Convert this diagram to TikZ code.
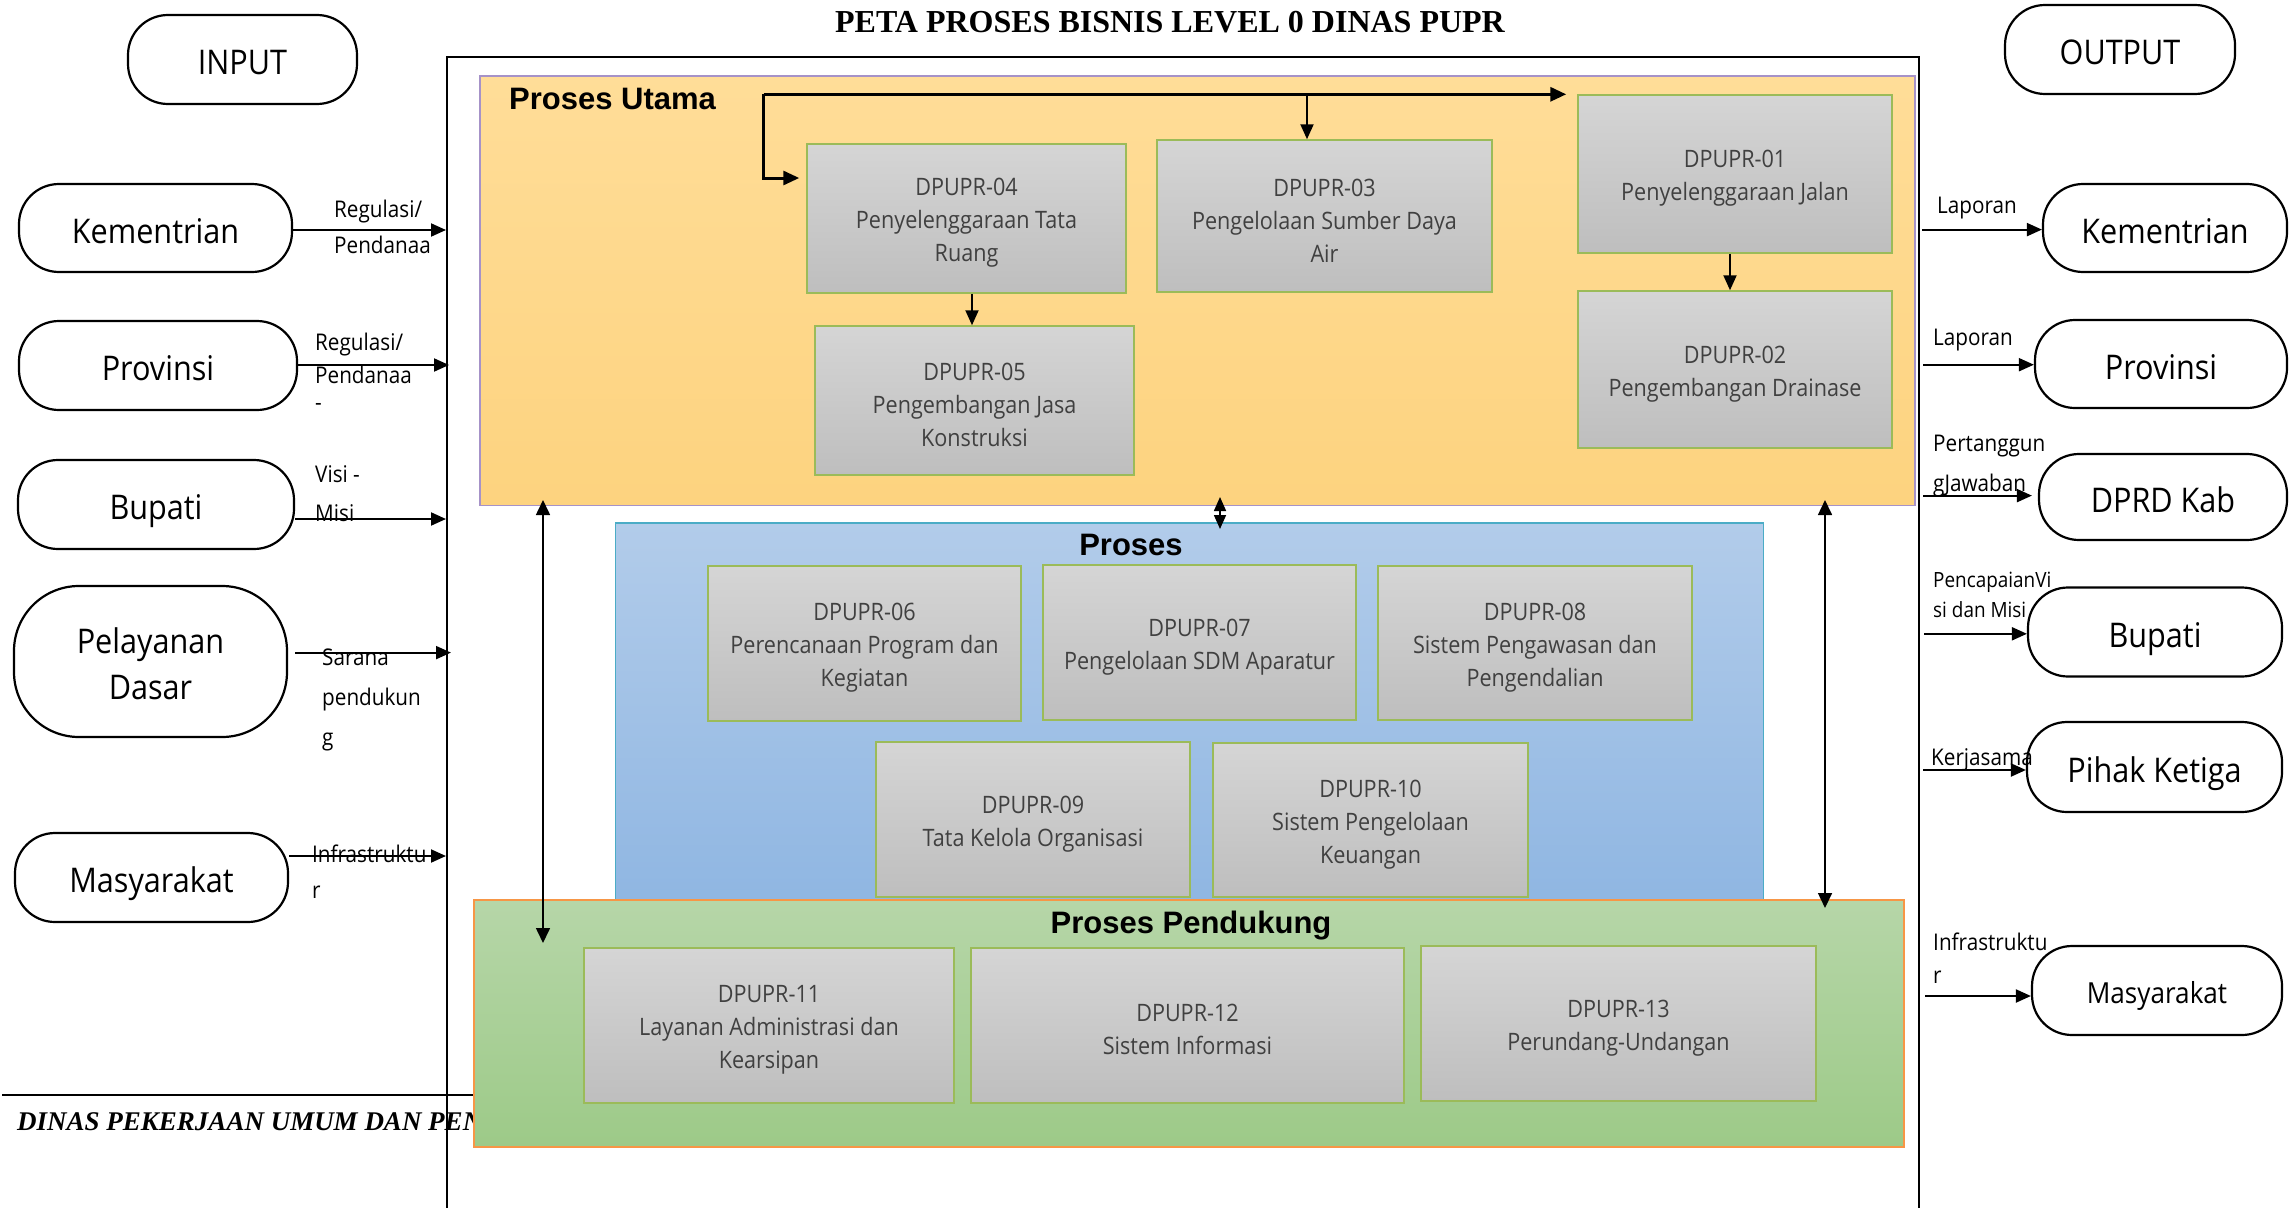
\documentclass[tikz,border=0pt]{standalone}
\usepackage{fontspec}
\usetikzlibrary{arrows.meta}
\newfontfamily\osans[FakeStretch=0.9]{Open Sans}
\newfontfamily\lsans{Liberation Sans}
\newfontfamily\lserif{Liberation Serif}
\newcommand\tp{\rule{0pt}{26pt}}
\definecolor{orTop}{RGB}{255,221,152}
\definecolor{orBot}{RGB}{253,211,127}
\definecolor{orEdge}{RGB}{166,146,200}
\definecolor{blTop}{RGB}{178,204,234}
\definecolor{blBot}{RGB}{143,182,226}
\definecolor{blEdge}{RGB}{75,172,198}
\definecolor{grTop}{RGB}{182,214,168}
\definecolor{grBot}{RGB}{157,202,136}
\definecolor{grEdge}{RGB}{247,150,70}
\definecolor{gTop}{RGB}{213,213,213}
\definecolor{gBot}{RGB}{190,190,190}
\definecolor{boxEdge}{RGB}{155,187,89}
\definecolor{boxText}{RGB}{64,64,64}
\begin{document}
\begin{tikzpicture}[x=1pt,y=-1pt,
  oval/.style={draw, line width=2.2pt, rounded corners=40pt, fill=white, align=center, inner sep=0pt, font=\osans\fontsize{34}{46}\selectfont},
  ovalone/.style={oval, text height=30pt, text depth=0pt},
  pbox/.style={draw=boxEdge, line width=1.5pt, top color=gTop, bottom color=gBot, align=center, inner sep=0pt, text=boxText, font=\osans\fontsize{24}{33}\selectfont},
  area/.style={line width=1.3pt, inner sep=0pt},
  arr/.style={-{Triangle[length=15pt,width=13pt]}, line width=2pt},
  tarr/.style={-{Triangle[length=16pt,width=14pt]}, line width=3.2pt},
  darr/.style={{Triangle[length=15pt,width=14pt]}-{Triangle[length=15pt,width=14pt]}, line width=1.6pt},
  elab/.style={anchor=base west, inner sep=0pt, font=\osans\fontsize{23}{28}\selectfont},
  head/.style={anchor=base, inner sep=0pt, font=\lsans\bfseries\fontsize{31}{36}\selectfont},
]
\useasboundingbox (0,0) rectangle (2296,1207);

% title and footer
\node[anchor=base, inner sep=0pt, font=\lserif\bfseries\fontsize{32}{36}\selectfont] (title) at (1170,33) {PETA PROSES BISNIS LEVEL 0 DINAS PUPR};
\node[anchor=base west, inner sep=0pt, font=\lserif\bfseries\itshape\fontsize{27}{32}\selectfont] (footer) at (17,1130) {DINAS PEKERJAAN UMUM DAN PEN};
\coordinate (fl1) at (2,1095);
\coordinate (fl2) at (480,1095);
\draw[line width=2pt] (fl1) -- (fl2);

% frame
\coordinate (fBL) at (447,1212);
\coordinate (fTL) at (447,57);
\coordinate (fTR) at (1919,57);
\coordinate (fBR) at (1919,1212);
\draw[line width=2.6pt] (fBL) -- (fTL) -- (fTR) -- (fBR);

% areas
\node[area, draw=orEdge, top color=orTop, bottom color=orBot, minimum width=1435pt, minimum height=429.5pt] (orange) at (1197.5,290.75) {};
\node[area, draw=blEdge, top color=blTop, bottom color=blBot, minimum width=1148pt, minimum height=382pt] (blue) at (1189.5,714) {};
\node[area, draw=grEdge, top color=grTop, bottom color=grBot, minimum width=1430pt, minimum height=247pt] (green) at (1189,1023.5) {};

\node[head, anchor=base west] (hUtama) at (509,109) {Proses Utama};
\node[head] (hProses) at (1131,555) {Proses};
\node[head] (hPend) at (1191,933) {Proses Pendukung};

% process boxes
\node[pbox, minimum width=314pt, minimum height=158pt] (b01) at (1735,174) {\tp DPUPR-01\\Penyelenggaraan Jalan};
\node[pbox, minimum width=314pt, minimum height=157pt] (b02) at (1735,369.5) {\tp DPUPR-02\\Pengembangan Drainase};
\node[pbox, minimum width=335pt, minimum height=152pt] (b03) at (1324.5,216) {\tp DPUPR-03\\Pengelolaan Sumber Daya\\Air};
\node[pbox, minimum width=319pt, minimum height=149pt] (b04) at (966.5,218.5) {\tp DPUPR-04\\Penyelenggaraan Tata\\Ruang};
\node[pbox, minimum width=319pt, minimum height=149pt] (b05) at (974.5,400.5) {\tp DPUPR-05\\Pengembangan Jasa\\Konstruksi};
\node[pbox, minimum width=313pt, minimum height=155pt] (b06) at (864.5,643.5) {\tp DPUPR-06\\Perencanaan Program dan\\Kegiatan};
\node[pbox, minimum width=313pt, minimum height=155pt] (b07) at (1199.5,642.5) {\tp DPUPR-07\\Pengelolaan SDM Aparatur};
\node[pbox, minimum width=314pt, minimum height=154pt] (b08) at (1535,643) {\tp DPUPR-08\\Sistem Pengawasan dan\\Pengendalian};
\node[pbox, minimum width=314pt, minimum height=155pt] (b09) at (1033,819.5) {\tp DPUPR-09\\Tata Kelola Organisasi};
\node[pbox, minimum width=315pt, minimum height=154pt] (b10) at (1370.5,820) {\tp DPUPR-10\\Sistem Pengelolaan\\Keuangan};
\node[pbox, minimum width=370pt, minimum height=155pt] (b11) at (769,1025.5) {\tp DPUPR-11\\Layanan Administrasi dan\\Kearsipan};
\node[pbox, minimum width=433pt, minimum height=155pt] (b12) at (1187.5,1025.5) {\tp DPUPR-12\\Sistem Informasi};
\node[pbox, minimum width=395pt, minimum height=155pt] (b13) at (1618.5,1023.5) {\tp DPUPR-13\\Perundang-Undangan};

% internal arrows
\coordinate (elb) at (763.5,94.3);
\draw[tarr, shorten >=11pt] (elb) -- (b01.west |- elb);
\draw[tarr, shorten >=7pt, line width=3pt] (elb) |- (b04.west |- 0,178);
\coordinate (top3) at (1307,96);
\draw[arr] (top3) -- (top3 |- b03.north);
\draw[arr] (b04.south -| 972,0) -- (b05.north -| 972,0);
\draw[arr] (b01.south -| 1730,0) -- (b02.north -| 1730,0);
\coordinate (m1) at (1220,497);
\coordinate (m2) at (1220,529);
\draw[{Triangle[length=14pt,width=12pt]}-{Triangle[length=14pt,width=12pt]}, line width=1.6pt] (m1) -- (m2);
\coordinate (l1) at (543,500);
\coordinate (l2) at (543,943);
\draw[darr] (l1) -- (l2);
\coordinate (r1) at (1825,500);
\coordinate (r2) at (1825,908);
\draw[darr] (r1) -- (r2);

% left input nodes
\node[ovalone, minimum width=229pt, minimum height=89pt] (input) at (242.5,59.5) {INPUT};
\node[ovalone, minimum width=273pt, minimum height=88pt] (kemL) at (155.5,228) {Kementrian};
\node[ovalone, minimum width=278pt, minimum height=89pt] (provL) at (158,365.5) {Provinsi};
\node[ovalone, minimum width=276pt, minimum height=89pt] (bupL) at (156,504.5) {Bupati};
\node[oval, rounded corners=65pt, minimum width=273pt, minimum height=151pt] (pelL) at (150.5,661.5) {\rule{0pt}{30pt}Pelayanan\\Dasar};
\node[ovalone, minimum width=273pt, minimum height=89pt] (masL) at (151.5,877.5) {Masyarakat};

\coordinate (inK) at (446,230);
\coordinate (inP) at (449,365);
\coordinate (inB) at (446,519);
\coordinate (inD) at (451,652.6);
\coordinate (inM) at (446,856);
\draw[arr] (kemL.east |- inK) -- (inK);
\draw[arr] (provL.east |- inP) -- (inP);
\draw[arr] (bupL.east |- inB) -- (inB);
\draw[arr] ([xshift=7pt]pelL.east |- inD) -- (inD);
\draw[arr] (masL.east |- inM) -- (inM);

\node[elab] (lk1) at (334,217) {Regulasi/};
\node[elab] (lk2) at (334,253) {Pendanaa};
\node[elab] (lp1) at (315,350) {Regulasi/};
\node[elab] (lp2) at (315,383) {Pendanaa};
\node[elab] (lp3) at (315,410) {-};
\node[elab] (lb1) at (315,482) {Visi -};
\node[elab] (lb2) at (315,521) {Misi};
\node[elab] (ld1) at (322,665) {Sarana};
\node[elab] (ld2) at (322,705) {pendukun};
\node[elab] (ld3) at (322,745) {g};
\node[elab] (lm1) at (312,862) {Infrastruktu};
\node[elab] (lm2) at (312,898) {r};

% right output nodes
\node[ovalone, minimum width=230pt, minimum height=89pt] (output) at (2120,49.5) {OUTPUT};
\node[ovalone, minimum width=244pt, minimum height=88pt] (kemR) at (2165,228) {Kementrian};
\node[ovalone, minimum width=252pt, minimum height=88pt] (provR) at (2161,364) {Provinsi};
\node[ovalone, minimum width=248pt, minimum height=86pt] (dprd) at (2163,497) {DPRD Kab};
\node[ovalone, minimum width=254pt, minimum height=89pt] (bupR) at (2155,632) {Bupati};
\node[ovalone, minimum width=255pt, minimum height=90pt] (pihak) at (2154.5,767) {Pihak Ketiga};
\node[ovalone, minimum width=250pt, minimum height=89pt, font=\osans\fontsize{29}{36}\selectfont, text height=26pt] (masR) at (2157,990.5) {Masyarakat};

\coordinate (oK) at (1922,229.6);
\coordinate (oP) at (1923,364.7);
\coordinate (oD) at (1923,495.6);
\coordinate (oB) at (1924,633.8);
\coordinate (oT) at (1923,770);
\coordinate (oM) at (1925,996);
\draw[arr] (oK) -- (kemR.west |- oK);
\draw[arr] (oP) -- (provR.west |- oP);
\draw[arr, shorten >=6pt] (oD) -- (dprd.west |- oD);
\draw[arr] (oB) -- (bupR.west |- oB);
\draw[arr] (oT) -- (pihak.west |- oT);
\draw[arr] (oM) -- (masR.west |- oM);

\node[elab] (rk) at (1937,213.5) {Laporan};
\node[elab] (rp) at (1933,345.6) {Laporan};
\node[elab] (rd1) at (1933,451.6) {Pertanggun};
\node[elab] (rd2) at (1933,491) {gJawaban};
\node[elab, font=\osans\fontsize{21}{26}\selectfont] (rb1) at (1933,587) {PencapaianVi};
\node[elab, font=\osans\fontsize{21}{26}\selectfont] (rb2) at (1933,617) {si dan Misi};
\node[elab] (rt) at (1931,765.7) {Kerjasama};
\node[elab] (rm1) at (1933,950) {Infrastruktu};
\node[elab] (rm2) at (1933,983.6) {r};
\end{tikzpicture}
\end{document}
